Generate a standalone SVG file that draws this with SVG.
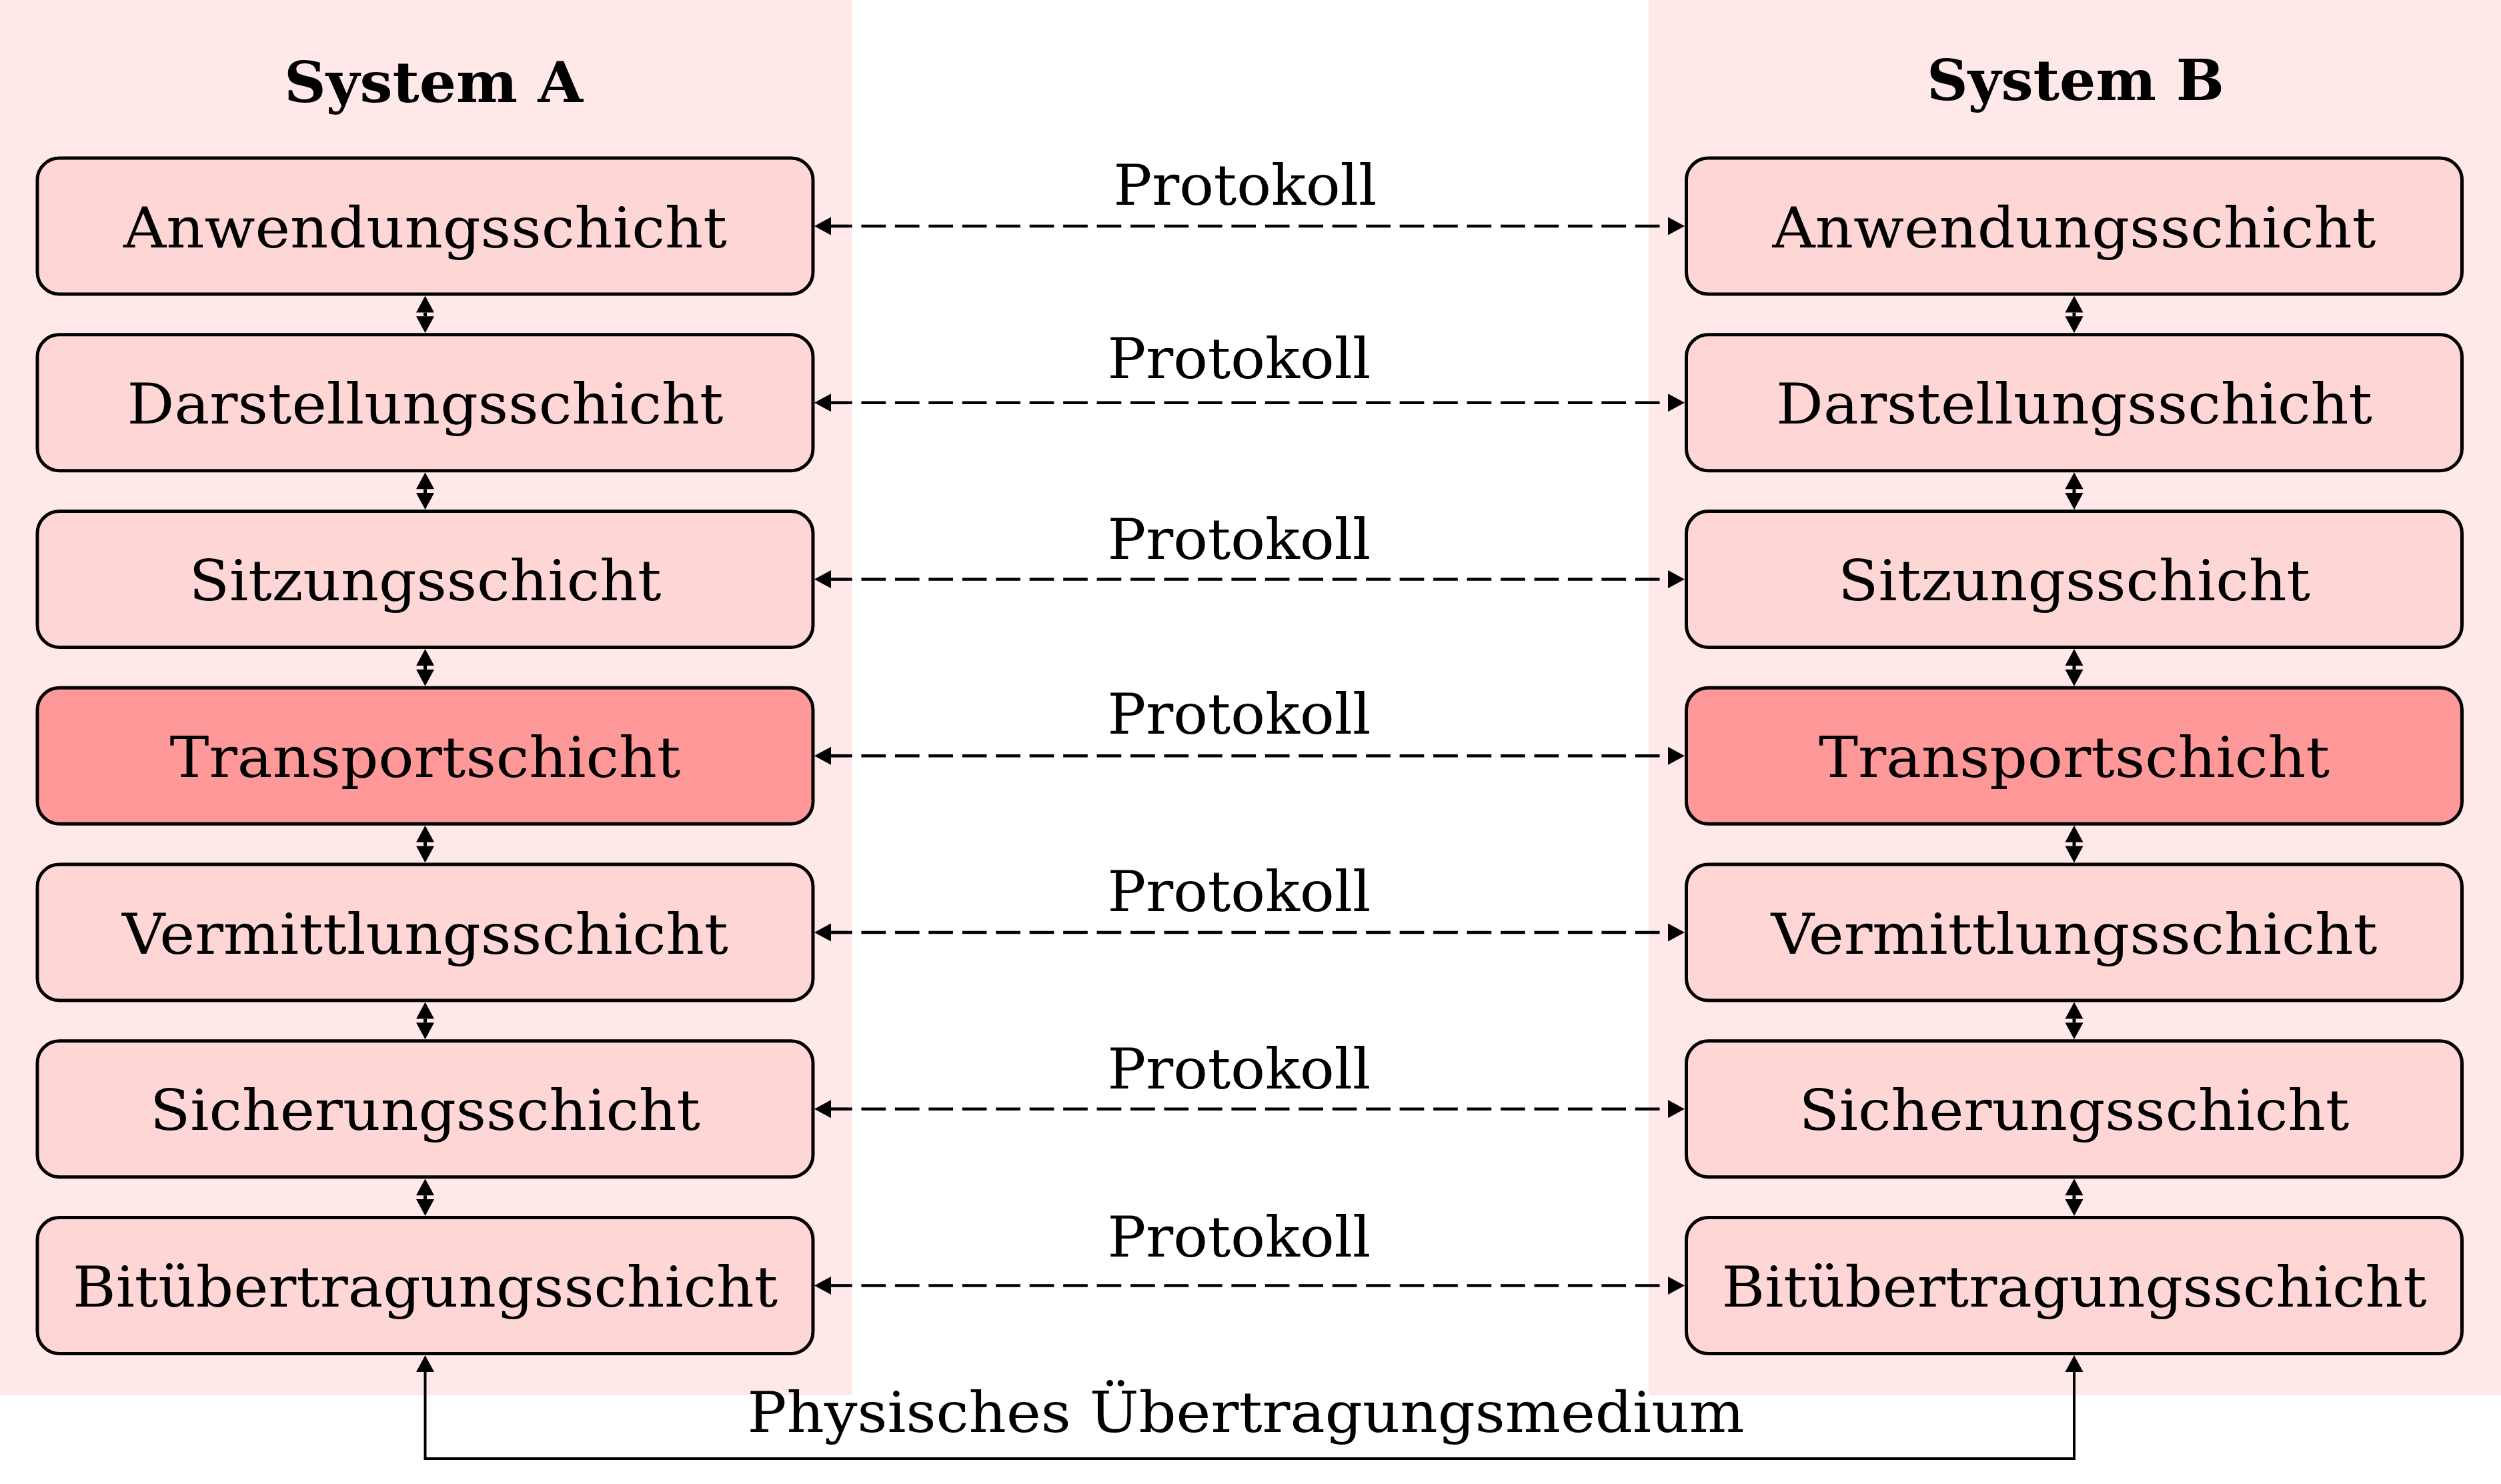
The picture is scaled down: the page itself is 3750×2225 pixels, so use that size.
<svg xmlns="http://www.w3.org/2000/svg" width="3750" height="2225" viewBox="0 0 3750 2225">
<style>
.bg{fill:#FFE8E8;stroke:none}
.box{fill:#FFD6D6;stroke:#000;stroke-width:5}
.box.hl{fill:#FF9999}
.lbl{font-family:"DejaVu Serif","Liberation Serif",serif;font-size:84px;text-anchor:middle;fill:#000}
.ttl{font-family:"DejaVu Serif","Liberation Serif",serif;font-size:84px;font-weight:bold;text-anchor:middle;fill:#000}
.proto{fill:none;stroke:#000;stroke-width:4.7;stroke-dasharray:36.7 13.75;stroke-dashoffset:5;marker-start:url(#ah);marker-end:url(#ah)}
.vert{fill:none;stroke:#000;stroke-width:5;marker-start:url(#ah);marker-end:url(#ah)}
.phys{fill:none;stroke:#000;stroke-width:4;marker-start:url(#ah);marker-end:url(#ah)}
</style>
<defs>
<marker id="ah" markerUnits="userSpaceOnUse" markerWidth="26" markerHeight="28" refX="0" refY="13.5" orient="auto-start-reverse" overflow="visible">
<path d="M0,0 L25,13.5 L0,27 z" fill="#000"/>
</marker>
</defs>
<rect width="3750" height="2225" fill="#FFFFFF"/>
<g id="background">
<rect class="bg" x="0" y="0" width="1278" height="2092"/>
<rect class="bg" x="2472" y="0" width="1278" height="2092"/>
</g>
<g id="titles">
<text id="titleA" class="ttl" x="650" y="153" textLength="448" lengthAdjust="spacingAndGlyphs">System A</text>
<text id="titleB" class="ttl" x="3112" y="150" textLength="446" lengthAdjust="spacingAndGlyphs">System B</text>
</g>
<g id="connectors">
<line class="vert" x1="637.5" y1="468.5" x2="637.5" y2="474.25"/>
<line class="vert" x1="637.5" y1="733.25" x2="637.5" y2="739"/>
<line class="vert" x1="637.5" y1="998" x2="637.5" y2="1003.75"/>
<line class="vert" x1="637.5" y1="1262.75" x2="637.5" y2="1268.5"/>
<line class="vert" x1="637.5" y1="1527.5" x2="637.5" y2="1533.25"/>
<line class="vert" x1="637.5" y1="1792.25" x2="637.5" y2="1798"/>
<line class="vert" x1="3110" y1="468.5" x2="3110" y2="474.25"/>
<line class="vert" x1="3110" y1="733.25" x2="3110" y2="739"/>
<line class="vert" x1="3110" y1="998" x2="3110" y2="1003.75"/>
<line class="vert" x1="3110" y1="1262.75" x2="3110" y2="1268.5"/>
<line class="vert" x1="3110" y1="1527.5" x2="3110" y2="1533.25"/>
<line class="vert" x1="3110" y1="1792.25" x2="3110" y2="1798"/>
<line class="proto" x1="1246" y1="339" x2="2501" y2="339"/>
<line class="proto" x1="1246" y1="603.75" x2="2501" y2="603.75"/>
<line class="proto" x1="1246" y1="868.5" x2="2501" y2="868.5"/>
<line class="proto" x1="1246" y1="1133.25" x2="2501" y2="1133.25"/>
<line class="proto" x1="1246" y1="1398" x2="2501" y2="1398"/>
<line class="proto" x1="1246" y1="1662.75" x2="2501" y2="1662.75"/>
<line class="proto" x1="1246" y1="1927.5" x2="2501" y2="1927.5"/>
<path class="phys" d="M637.5,2057 V2187 H3110 V2057"/>
<text class="lbl" x="1867" y="307" textLength="395" lengthAdjust="spacingAndGlyphs">Protokoll</text>
<text class="lbl" x="1858" y="567" textLength="395" lengthAdjust="spacingAndGlyphs">Protokoll</text>
<text class="lbl" x="1858" y="838" textLength="395" lengthAdjust="spacingAndGlyphs">Protokoll</text>
<text class="lbl" x="1858" y="1100" textLength="395" lengthAdjust="spacingAndGlyphs">Protokoll</text>
<text class="lbl" x="1858" y="1366" textLength="395" lengthAdjust="spacingAndGlyphs">Protokoll</text>
<text class="lbl" x="1858" y="1632" textLength="395" lengthAdjust="spacingAndGlyphs">Protokoll</text>
<text class="lbl" x="1858" y="1884" textLength="395" lengthAdjust="spacingAndGlyphs">Protokoll</text>
<text class="lbl" x="1868" y="2147" textLength="1495" lengthAdjust="spacingAndGlyphs">Physisches Übertragungsmedium</text>
</g>
<g id="A7"><rect class="box" x="56" y="237" width="1163" height="204" rx="33"/><text class="lbl" x="637.5" y="370.5" textLength="905" lengthAdjust="spacingAndGlyphs">Anwendungsschicht</text></g>
<g id="A6"><rect class="box" x="56" y="501.75" width="1163" height="204" rx="33"/><text class="lbl" x="637.5" y="635.25" textLength="894" lengthAdjust="spacingAndGlyphs">Darstellungsschicht</text></g>
<g id="A5"><rect class="box" x="56" y="766.5" width="1163" height="204" rx="33"/><text class="lbl" x="637.5" y="900" textLength="708" lengthAdjust="spacingAndGlyphs">Sitzungsschicht</text></g>
<g id="A4"><rect class="box hl" x="56" y="1031.25" width="1163" height="204" rx="33"/><text class="lbl" x="637.5" y="1164.75" textLength="766" lengthAdjust="spacingAndGlyphs">Transportschicht</text></g>
<g id="A3"><rect class="box" x="56" y="1296" width="1163" height="204" rx="33"/><text class="lbl" x="637.5" y="1429.5" textLength="909" lengthAdjust="spacingAndGlyphs">Vermittlungsschicht</text></g>
<g id="A2"><rect class="box" x="56" y="1560.75" width="1163" height="204" rx="33"/><text class="lbl" x="637.5" y="1694.25" textLength="825" lengthAdjust="spacingAndGlyphs">Sicherungsschicht</text></g>
<g id="A1"><rect class="box" x="56" y="1825.5" width="1163" height="204" rx="33"/><text class="lbl" x="637.5" y="1959" textLength="1057" lengthAdjust="spacingAndGlyphs">Bitübertragungsschicht</text></g>
<g id="B7"><rect class="box" x="2528.5" y="237" width="1163" height="204" rx="33"/><text class="lbl" x="3110" y="370.5" textLength="905" lengthAdjust="spacingAndGlyphs">Anwendungsschicht</text></g>
<g id="B6"><rect class="box" x="2528.5" y="501.75" width="1163" height="204" rx="33"/><text class="lbl" x="3110" y="635.25" textLength="894" lengthAdjust="spacingAndGlyphs">Darstellungsschicht</text></g>
<g id="B5"><rect class="box" x="2528.5" y="766.5" width="1163" height="204" rx="33"/><text class="lbl" x="3110" y="900" textLength="708" lengthAdjust="spacingAndGlyphs">Sitzungsschicht</text></g>
<g id="B4"><rect class="box hl" x="2528.5" y="1031.25" width="1163" height="204" rx="33"/><text class="lbl" x="3110" y="1164.75" textLength="766" lengthAdjust="spacingAndGlyphs">Transportschicht</text></g>
<g id="B3"><rect class="box" x="2528.5" y="1296" width="1163" height="204" rx="33"/><text class="lbl" x="3110" y="1429.5" textLength="909" lengthAdjust="spacingAndGlyphs">Vermittlungsschicht</text></g>
<g id="B2"><rect class="box" x="2528.5" y="1560.75" width="1163" height="204" rx="33"/><text class="lbl" x="3110" y="1694.25" textLength="825" lengthAdjust="spacingAndGlyphs">Sicherungsschicht</text></g>
<g id="B1"><rect class="box" x="2528.5" y="1825.5" width="1163" height="204" rx="33"/><text class="lbl" x="3110" y="1959" textLength="1057" lengthAdjust="spacingAndGlyphs">Bitübertragungsschicht</text></g>
</svg>
